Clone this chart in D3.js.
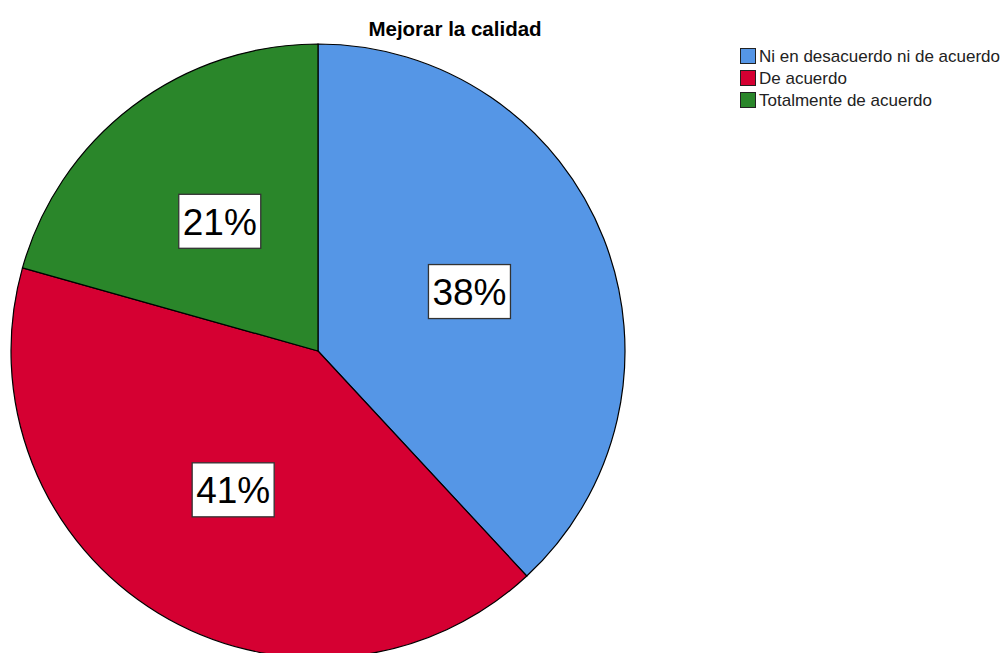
<!DOCTYPE html>
<html lang="es">
<head>
<meta charset="utf-8">
<title>Mejorar la calidad</title>
<script src="https://cdn.jsdelivr.net/npm/d3@7"></script>
<style>
  body { margin: 0; background: #fff; }
  svg text { font-family: "Liberation Sans", Arial, sans-serif; }
</style>
</head>
<body>
<script>
// categories and counts (percentages: 38%, 41%, 21%)
var categories = ["Ni en desacuerdo ni de acuerdo", "De acuerdo", "Totalmente de acuerdo"];
var counts = [24, 26, 13];
var colors = ["#5596e6", "#d50032", "#2a862a"];

var w = 1008, h = 653;
var cx = 318, cy = 351, radius = 307;

var svg = d3.select("body").append("svg").attr("width", w).attr("height", h);

svg.append("text")
  .attr("x", 455).attr("y", 36)
  .attr("text-anchor", "middle")
  .attr("font-size", "20.5px").attr("font-weight", "bold")
  .text("Mejorar la calidad");

var total = d3.sum(counts);
var pie = d3.pie().sort(null).value(function(d) { return d; });
var arcs = pie(counts);
var arc = d3.arc().innerRadius(0).outerRadius(radius);
var labelArc = d3.arc().innerRadius(radius * 0.53).outerRadius(radius * 0.53);

var g = svg.append("g").attr("transform", "translate(" + cx + "," + cy + ")");

g.selectAll("path")
  .data(arcs)
  .enter()
  .append("path")
  .attr("d", arc)
  .attr("fill", function(d, i) { return colors[i]; })
  .attr("stroke", "#000")
  .attr("stroke-width", 1.2);

var labels = g.selectAll("g.lbl")
  .data(arcs)
  .enter()
  .append("g")
  .attr("class", "lbl")
  .attr("transform", function(d) { return "translate(" + labelArc.centroid(d) + ")"; });

labels.append("rect")
  .attr("x", -41).attr("y", -27)
  .attr("width", 82).attr("height", 54)
  .attr("fill", "#fff")
  .attr("stroke", "#333")
  .attr("stroke-width", 1.3);

labels.append("text")
  .attr("text-anchor", "middle")
  .attr("dy", "0.36em")
  .attr("font-size", "37px")
  .text(function(d) { return Math.round(d.value / total * 100) + "%"; });

// legend
var legend = svg.append("g").attr("transform", "translate(740.5,48.5)");
var rows = legend.selectAll("g")
  .data(categories)
  .enter()
  .append("g")
  .attr("transform", function(d, i) { return "translate(0," + i * 22 + ")"; });

rows.append("rect")
  .attr("width", 15).attr("height", 15)
  .attr("fill", function(d, i) { return colors[i]; })
  .attr("stroke", "#222");

rows.append("text")
  .attr("x", 18.5).attr("y", 13.5)
  .attr("font-size", "17px")
  .attr("fill", "#222")
  .text(function(d) { return d; });
</script>
</body>
</html>
